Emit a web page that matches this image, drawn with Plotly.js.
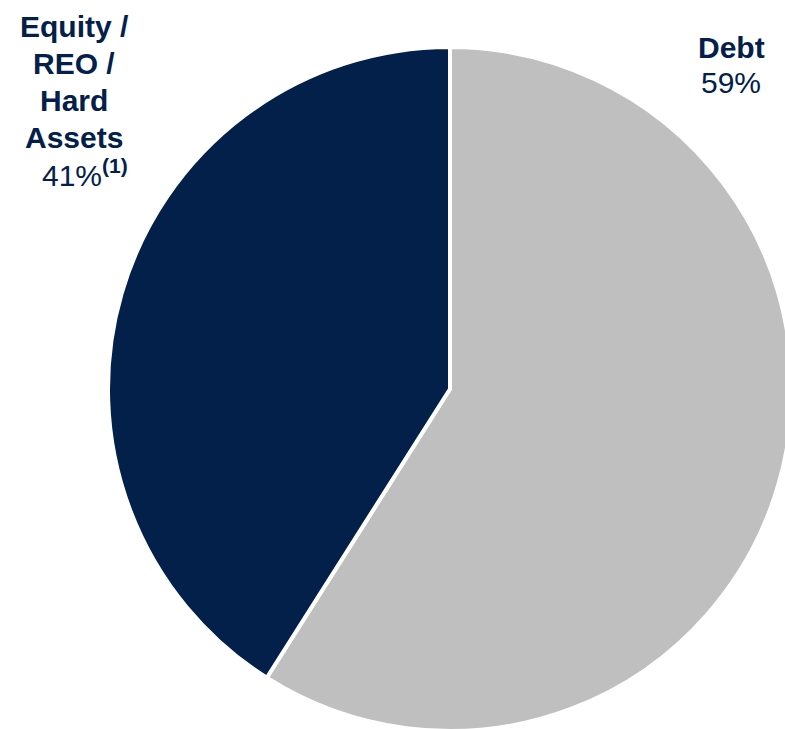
<!DOCTYPE html>
<html>
<head>
<meta charset="utf-8">
<script src="https://cdn.plot.ly/plotly-3.0.1.min.js"></script>
<style>
html, body { margin: 0; padding: 0; overflow: hidden; background: #ffffff; }
#chart { width: 800px; height: 732px; }
</style>
</head>
<body>
<div id="chart"></div>
<script>
// ---- data ----
const categories = ["Debt", "Equity / REO / Hard Assets"];
const values = [59, 41];
const labelLines = [["Debt"], ["Equity /", "REO /", "Hard", "Assets"]];
const footnotes = ["", "(1)"];

// ---- style ----
const NAVY = "#03204A";
const GREY = "#BFBFBF";
const W = 800, H = 732;
const FONT = "Liberation Sans, Arial, Helvetica, sans-serif";
const FS = 30;

function px(x) { return x / W; }
function py(y) { return 1 - y / H; }

const trace = {
  type: "pie",
  labels: categories,
  values: values,
  sort: false,
  direction: "clockwise",
  rotation: 0,
  textinfo: "none",
  hoverinfo: "none",
  marker: { colors: [GREY, NAVY], line: { color: "#ffffff", width: 4 } },
  domain: { x: [px(108), px(792)], y: [py(731), py(47)] },
  showlegend: false
};

// label positions (pixel centers)
const labelPos = [
  { x: 731, ys: [47], pctX: 731, pctY: 82 },
  { x: 74, ys: [27, 63, 100, 137], pctX: 85, pctY: 173 }
];

const annotations = [];
categories.forEach((c, i) => {
  labelLines[i].forEach((line, j) => {
    annotations.push({
      xref: "paper", yref: "paper",
      x: px(labelPos[i].x), y: py(labelPos[i].ys[j]),
      xanchor: "center", yanchor: "middle",
      text: "<b>" + line + "</b>",
      showarrow: false,
      font: { family: FONT, size: FS, color: NAVY }
    });
  });
  let t = values[i] + "%";
  if (footnotes[i]) t += "<sup><b>" + footnotes[i] + "</b></sup>";
  annotations.push({
    xref: "paper", yref: "paper",
    x: px(labelPos[i].pctX), y: py(labelPos[i].pctY),
    xanchor: "center", yanchor: "middle",
    text: t,
    showarrow: false,
    font: { family: FONT, size: FS, color: NAVY }
  });
});

const layout = {
  width: W, height: H,
  margin: { l: 0, r: 0, t: 0, b: 0 },
  paper_bgcolor: "#ffffff",
  plot_bgcolor: "#ffffff",
  annotations: annotations
};

Plotly.newPlot("chart", [trace], layout, { displayModeBar: false, staticPlot: true });
</script>
</body>
</html>
